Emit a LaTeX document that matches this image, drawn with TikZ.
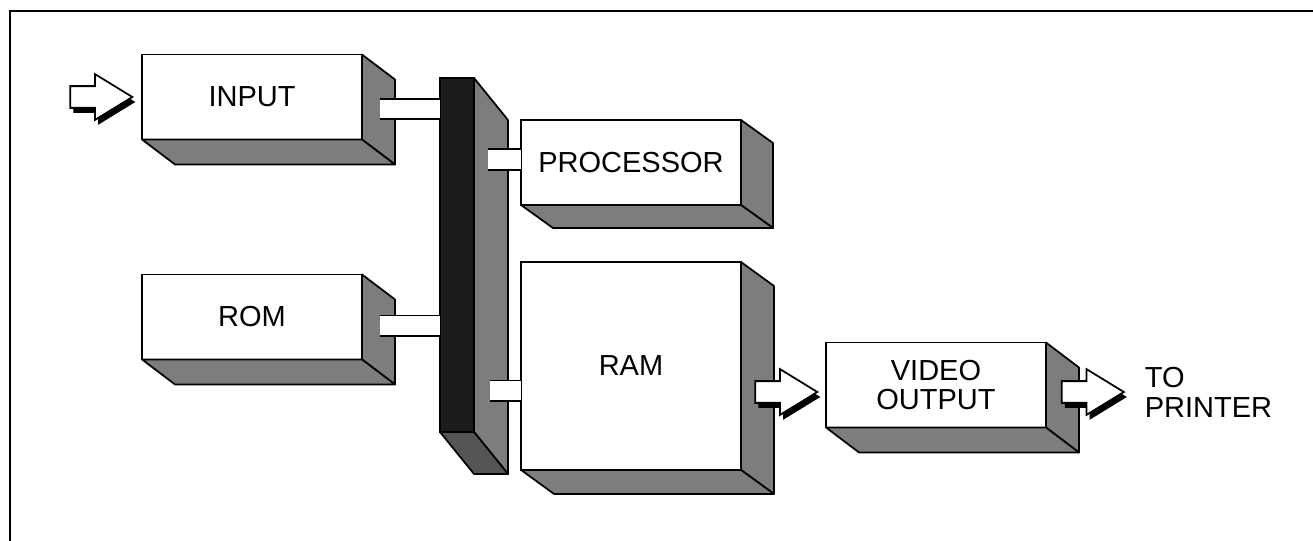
\documentclass[tikz,border=0pt]{standalone}
\usepackage{fontspec}
\setmainfont{Liberation Sans}
\usetikzlibrary{positioning,calc,shapes.arrows,shadows}
\definecolor{FaceGray}{RGB}{125,125,125}
\definecolor{BusBlack}{RGB}{28,28,28}
\definecolor{BusFloor}{RGB}{85,85,85}
\tikzset{
  unit/.style={draw=black, fill=white, line width=1pt, minimum width=4.4cm,
               minimum height=1.7cm, inner sep=0pt, outer sep=0pt, align=center,
               font=\fontsize{16.5}{17}\selectfont},
  busbar/.style={draw=black, fill=BusBlack, line width=1pt, minimum width=0.68cm,
                 minimum height=7.08cm, inner sep=0pt, outer sep=0pt},
  face/.style={draw=black, line width=1pt, line join=round},
  stub/.style={draw=black, line width=1pt, double=white, double distance=0.38cm},
  fatarrow/.style={single arrow, draw=black, fill=white, line width=1pt,
                   minimum height=1.24cm, minimum width=0.88cm,
                   inner xsep=0pt, inner ysep=0.2cm,
                   single arrow head extend=0.24cm, single arrow tip angle=63,
                   drop shadow={shadow xshift=0.06cm, shadow yshift=-0.1cm,
                                fill=black, opacity=1}},
  frame/.style={draw=black, line width=1.2pt}
}
\newcommand{\extrude}[5]{%
  \filldraw[face, fill=#4] (#1.north east) -- ++(#2,#3)
    -- ($(#1.south east)+(#2,#3)$) -- (#1.south east) -- cycle;
  \filldraw[face, fill=#5] (#1.south west) -- (#1.south east)
    -- ($(#1.south east)+(#2,#3)$) -- ($(#1.south west)+(#2,#3)$) -- cycle;
}
\begin{document}
\begin{tikzpicture}[x=0.02cm, y=-0.02cm]
\useasboundingbox (0,0) rectangle (1313,541);
\draw[frame] (1313,11) -- (10,11) -- (10,541);
\node[unit] (input) at (252,97) {INPUT};
\node[unit, below=2.7cm of input] (rom) {ROM};
\node[busbar] (bus) at (457,255) {};
\node[unit, anchor=north west] (proc) at (521,120) {PROCESSOR};
\node[unit, minimum height=4.16cm, below=1.14cm of proc] (ram) {RAM};
\node[unit] (video) at (936,385) {VIDEO\\OUTPUT};
\extrude{input}{33}{25}{FaceGray}{FaceGray}
\extrude{rom}{33}{25}{FaceGray}{FaceGray}
\extrude{bus}{34}{42}{FaceGray}{BusFloor}
\extrude{proc}{32}{23}{FaceGray}{FaceGray}
\extrude{ram}{33}{24}{FaceGray}{FaceGray}
\extrude{video}{33}{25}{FaceGray}{FaceGray}
\draw[stub] ($(input.east)+(18,12)$) coordinate (s1) -- (s1 -| bus.west);
\draw[stub] ($(rom.east)+(18,9)$) coordinate (s2) -- (s2 -| bus.west);
\draw[stub] ($(proc.west)+(-33,-3)$) coordinate (s3) -- (s3 -| proc.west);
\draw[stub] ($(ram.west)+(-31,25)$) coordinate (s4) -- (s4 -| ram.west);
\node[fatarrow, left=0.16cm of input] (inarrow) {};
\node[fatarrow, left=0.14cm of video, yshift=-0.14cm] (ramarrow) {};
\node[fatarrow, right=0.3cm of video, yshift=-0.14cm] (prnarrow) {};
\node[right=0.38cm of prnarrow, inner sep=0pt, align=left,
      font=\fontsize{16.5}{17}\selectfont] (printer) {TO\\PRINTER};
\end{tikzpicture}
\end{document}
